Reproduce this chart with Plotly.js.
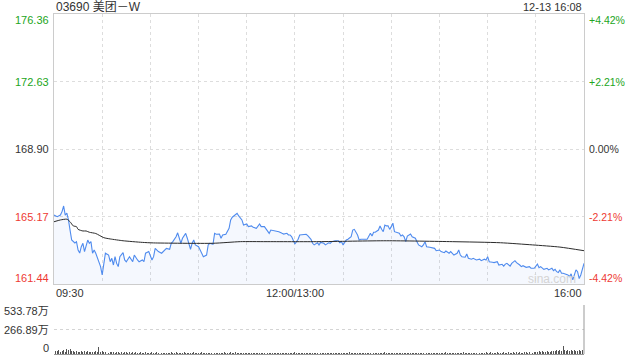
<!DOCTYPE html>
<html><head><meta charset="utf-8">
<script src="https://cdn.plot.ly/plotly-3.0.1.min.js"></script>
<style>html,body{margin:0;padding:0;background:#fff;} #chart{width:640px;height:360px;}</style>
</head><body><div id="chart"></div>
<script>
const stockTitle = "03690 美团－W";
const timeStamp = "12-13 16:08";

// minutes after 09:30 (12:00 and 13:00 share one slot)
const priceMinutes = [0,2,4,5,6,7,8,9,10,11,13,14,15,16,17,18,19,20,21,22,23,24,25,26,27,28,29,30,31,32,34,35,36,37,38,39,40,41,43,44,45,47,49,50,52,53,55,56,57,59,61,62,63,65,67,68,70,72,73,74,76,77,78,79,80,82,83,84,85,86,87,88,90,91,92,93,95,96,97,99,100,101,103,104,105,107,109,110,111,112,114,115,117,118,120,121,123,124,126,128,129,131,132,134,135,137,138,140,142,143,145,146,147,148,150,151,152,153,155,157,158,160,161,162,164,165,166,168,169,171,172,173,175,177,178,179,180,182,183,185,186,187,189,190,191,193,195,197,198,199,200,202,203,204,205,206,207,208,209,210,211,212,214,215,216,217,218,219,220,222,223,225,226,227,229,230,231,232,234,236,237,238,240,241,243,244,246,247,249,251,252,253,254,256,257,258,260,261,263,265,266,268,269,270,271,273,274,276,277,279,280,281,282,284,285,287,288,290,291,292,294,296,297,299,300,301,302,303,305,307,308,310,311,312,313,314,315,316,317,319,320,321,322,323,324,325,326,327,328,330];
const prices = [165.25,165.16,165.25,165.44,165.75,165.25,165.35,164.98,164.42,163.87,163.71,163.78,163.32,163.15,163.50,163.69,163.23,163.60,163.87,163.69,163.78,163.14,163.32,163.14,162.86,162.67,162.40,161.94,162.67,163.14,163.04,162.67,162.86,162.49,162.95,162.58,162.40,162.95,163.17,162.77,162.67,162.95,162.67,163.04,162.77,162.67,162.77,162.67,163.14,163.23,162.77,162.95,163.41,163.23,163.14,163.23,163.41,163.36,163.69,163.78,164.05,164.27,163.91,163.69,163.97,164.24,163.97,163.60,163.36,163.69,163.87,163.60,163.50,163.32,163.14,162.95,163.04,163.60,163.69,163.63,164.24,164.19,164.20,163.97,164.15,164.19,164.52,164.98,165.13,165.20,165.35,165.20,164.98,164.70,164.76,164.61,164.65,164.57,164.52,164.76,164.61,164.61,164.46,164.24,164.42,164.38,164.38,164.33,164.24,164.20,164.24,164.15,164.15,164.05,163.65,163.78,163.91,164.15,164.19,164.19,164.11,163.91,163.69,163.60,163.72,163.60,163.74,163.69,163.60,163.72,163.69,163.78,163.83,163.83,163.72,163.78,163.60,163.87,163.91,164.05,164.42,164.46,164.15,163.87,163.91,163.91,163.91,164.24,164.09,164.30,164.30,164.42,164.65,164.46,164.33,164.70,164.65,164.66,164.46,164.61,164.80,164.33,164.24,164.24,164.09,164.15,164.05,163.78,164.09,164.20,164.05,163.97,163.78,163.60,163.50,163.60,163.78,163.50,163.47,163.41,163.41,163.28,163.32,163.23,163.17,163.26,163.14,163.23,163.04,163.14,163.32,163.04,162.95,162.92,163.10,162.86,162.81,162.86,162.77,162.81,162.73,162.81,162.77,162.95,162.67,162.64,162.62,162.67,162.49,162.53,162.43,162.54,162.58,162.43,162.58,162.73,162.62,162.49,162.40,162.45,162.36,162.40,162.31,162.31,162.43,162.54,162.34,162.40,162.25,162.31,162.22,162.31,162.18,162.25,162.12,162.07,162.22,162.03,162.03,161.98,161.94,161.85,162.00,161.67,161.94,162.22,162.12,161.74,161.94,162.58];

const avgMinutes = [0,4,8,10,12,14,15,18,20,22,26,31,35,43,55,62,99,116,132,165,207,248,278,298,315,330];
const avgPrices = [164.88,164.98,165.02,164.88,164.65,164.61,164.46,164.37,164.37,164.30,164.23,164.00,163.93,163.83,163.74,163.71,163.69,163.78,163.78,163.78,163.83,163.78,163.72,163.60,163.48,163.28];

// volume per minute, in 万
const volumes = [48,35,28,42,22,33,46,27,52,40,
55,32,38,26,30,22,27,33,24,29,
26,31,21,27,19,23,31,22,78,26,
36,21,19,23,16,21,19,26,16,21,
18,15,22,14,20,17,12,19,15,18,
14,17,12,16,19,13,15,18,12,16,
13,17,11,15,18,12,14,16,11,15,
12,16,13,17,11,14,20,13,16,12,
15,18,12,14,11,16,13,17,12,15,
11,14,17,12,15,13,16,11,14,12,
15,13,11,16,12,14,18,12,15,13,
22,16,14,18,13,15,12,14,11,15,
13,16,12,14,11,15,12,13,16,11,
14,12,15,11,13,16,12,14,11,13,
12,15,11,14,12,13,16,11,14,12,
18,14,12,15,13,11,14,12,16,13,
12,14,11,15,13,12,14,11,13,12,
15,12,14,11,13,12,15,11,14,12,
13,16,12,14,18,15,12,14,11,13,
12,14,11,15,13,12,14,16,12,13,
15,12,14,13,16,12,17,13,12,14,
16,12,14,11,13,12,15,13,11,14,
12,15,13,11,14,12,16,13,12,15,
14,12,15,13,11,14,12,16,13,12,
15,13,11,14,17,12,14,13,15,12,
14,16,12,15,13,18,14,12,15,13,
16,14,12,15,19,13,15,12,14,17,
13,15,18,14,12,16,19,14,15,13,
17,14,16,20,15,13,18,16,22,15,
18,16,14,21,17,15,23,18,16,20,
25,22,33,19,28,24,18,30,22,26,
35,28,32,40,30,45,38,89,42,36,
40,35,48,30,42,38,28,45,33,40,
30];

const priceTicks = [161.44,165.17,168.90,172.63,176.36];
const priceTickLabels = ["161.44","165.17","168.90","172.63","176.36"];
const pctTickLabels = ["-4.42%","-2.21%","0.00%","+2.21%","+4.42%"];
const volTicks = [0,266.89,533.78];
const volTickLabels = ["0","266.89万","533.78万"];
const timeTicks = [0,150,330];
const timeTickLabels = ["09:30","12:00/13:00","16:00"];

const GREEN = "#22a522", RED = "#ee3a33", DARK = "#333333";
const FONT = "'Liberation Sans', Arial, 'Noto Sans CJK SC', sans-serif";
const PH = 340; // plot area height in px
const mainBottom = 70 / PH, volTop = 49 / PH;

const volMinutes = volumes.map((v, i) => i);

const traces = [
  {x: priceMinutes, y: prices, type: "scatter", mode: "lines",
   line: {color: "#4f8bee", width: 1.1}, fill: "tozeroy",
   fillcolor: "rgba(90,140,235,0.06)", xaxis: "x", yaxis: "y", hoverinfo: "skip"},
  {x: avgMinutes, y: avgPrices, type: "scatter", mode: "lines",
   line: {color: "#2b2b2b", width: 1, shape: "spline", smoothing: 0.6}, xaxis: "x", yaxis: "y", hoverinfo: "skip"},
  {x: volMinutes, y: volumes, type: "bar", width: 0.6,
   marker: {color: "#555", line: {width: 0}}, xaxis: "x2", yaxis: "y2", hoverinfo: "skip"}
];

const annotations = [];
const tickColor = (i) => i < 2 ? RED : (i === 2 ? DARK : GREEN);
priceTicks.forEach((v, i) => {
  const ys = i === 0 ? 6 : (i === 4 ? -6 : 0);
  annotations.push({xref: "paper", yref: "y", x: 0, y: v, xanchor: "right", yanchor: "middle",
    xshift: -3, yshift: ys, showarrow: false, text: priceTickLabels[i],
    font: {family: FONT, size: 11, color: tickColor(i)}});
  annotations.push({xref: "paper", yref: "y", x: 1, y: v, xanchor: "left", yanchor: "middle",
    xshift: 3, yshift: ys, showarrow: false, text: pctTickLabels[i],
    font: {family: FONT, size: 10.5, color: tickColor(i)}});
});
volTicks.forEach((v, i) => {
  const ys = i === 0 ? 6 : (i === 2 ? -6 : 0);
  annotations.push({xref: "paper", yref: "y2", x: 0, y: v, xanchor: "right", yanchor: "middle",
    xshift: -3, yshift: ys, showarrow: false, text: volTickLabels[i],
    font: {family: FONT, size: 11, color: DARK}});
});
const anchors = ["left", "center", "right"];
timeTicks.forEach((v, i) => {
  annotations.push({xref: "x", yref: "paper", x: v, y: 61 / PH, xanchor: anchors[i], yanchor: "middle",
    showarrow: false, text: timeTickLabels[i], font: {family: FONT, size: 11, color: DARK}});
});
annotations.push({xref: "paper", yref: "paper", x: 0, y: 1 + 7 / PH, xanchor: "left", yanchor: "middle",
  showarrow: false, text: stockTitle, font: {family: FONT, size: 12, color: DARK}});
annotations.push({xref: "paper", yref: "paper", x: 1, y: 1 + 7 / PH, xanchor: "right", yanchor: "middle",
  showarrow: false, text: timeStamp, font: {family: FONT, size: 11, color: DARK}});
annotations.push({xref: "paper", yref: "paper", x: (552 - 54) / 530, y: 75.5 / PH, xanchor: "center", yanchor: "middle",
  showarrow: false, text: "sina.com", font: {family: FONT, size: 12, color: "#d4d4d4"}});

const layout = {
  width: 640, height: 360,
  margin: {l: 54, r: 56, t: 14, b: 6},
  paper_bgcolor: "#fff", plot_bgcolor: "rgba(0,0,0,0)",
  showlegend: false,
  font: {family: FONT, size: 11, color: DARK},
  xaxis: {domain: [0, 1], anchor: "y", range: [0, 330], tick0: 0, dtick: 30,
    showgrid: true, gridcolor: "#dddddd", griddash: "dot", gridwidth: 1,
    showticklabels: false, ticks: "", zeroline: false,
    showline: true, linecolor: "#cccccc", linewidth: 1, mirror: true},
  yaxis: {domain: [mainBottom, 1], anchor: "x", range: [161.44, 176.36],
    tickmode: "array", tickvals: priceTicks, showticklabels: false, ticks: "",
    showgrid: true, gridcolor: "#dddddd", griddash: "dot", zeroline: false,
    showline: true, linecolor: "#cccccc", linewidth: 1, mirror: true},
  xaxis2: {domain: [0, 1], anchor: "y2", range: [0, 330], showgrid: false,
    showticklabels: false, ticks: "", zeroline: false,
    showline: true, linecolor: "#999999", linewidth: 1},
  yaxis2: {domain: [0, volTop], anchor: "x2", range: [0, 533.78],
    tickmode: "array", tickvals: volTicks, showticklabels: false, ticks: "",
    showgrid: true, gridcolor: "#d4d4d4", griddash: "dot", zeroline: false, showline: false},
  shapes: [
    {type: "line", xref: "paper", yref: "paper", x0: 1, x1: 1, y0: 0, y1: volTop,
     line: {color: "#999999", width: 1}}
  ],
  annotations: annotations,
  bargap: 0
};

Plotly.newPlot("chart", traces, layout, {displayModeBar: false, staticPlot: true});
</script>
</body></html>
